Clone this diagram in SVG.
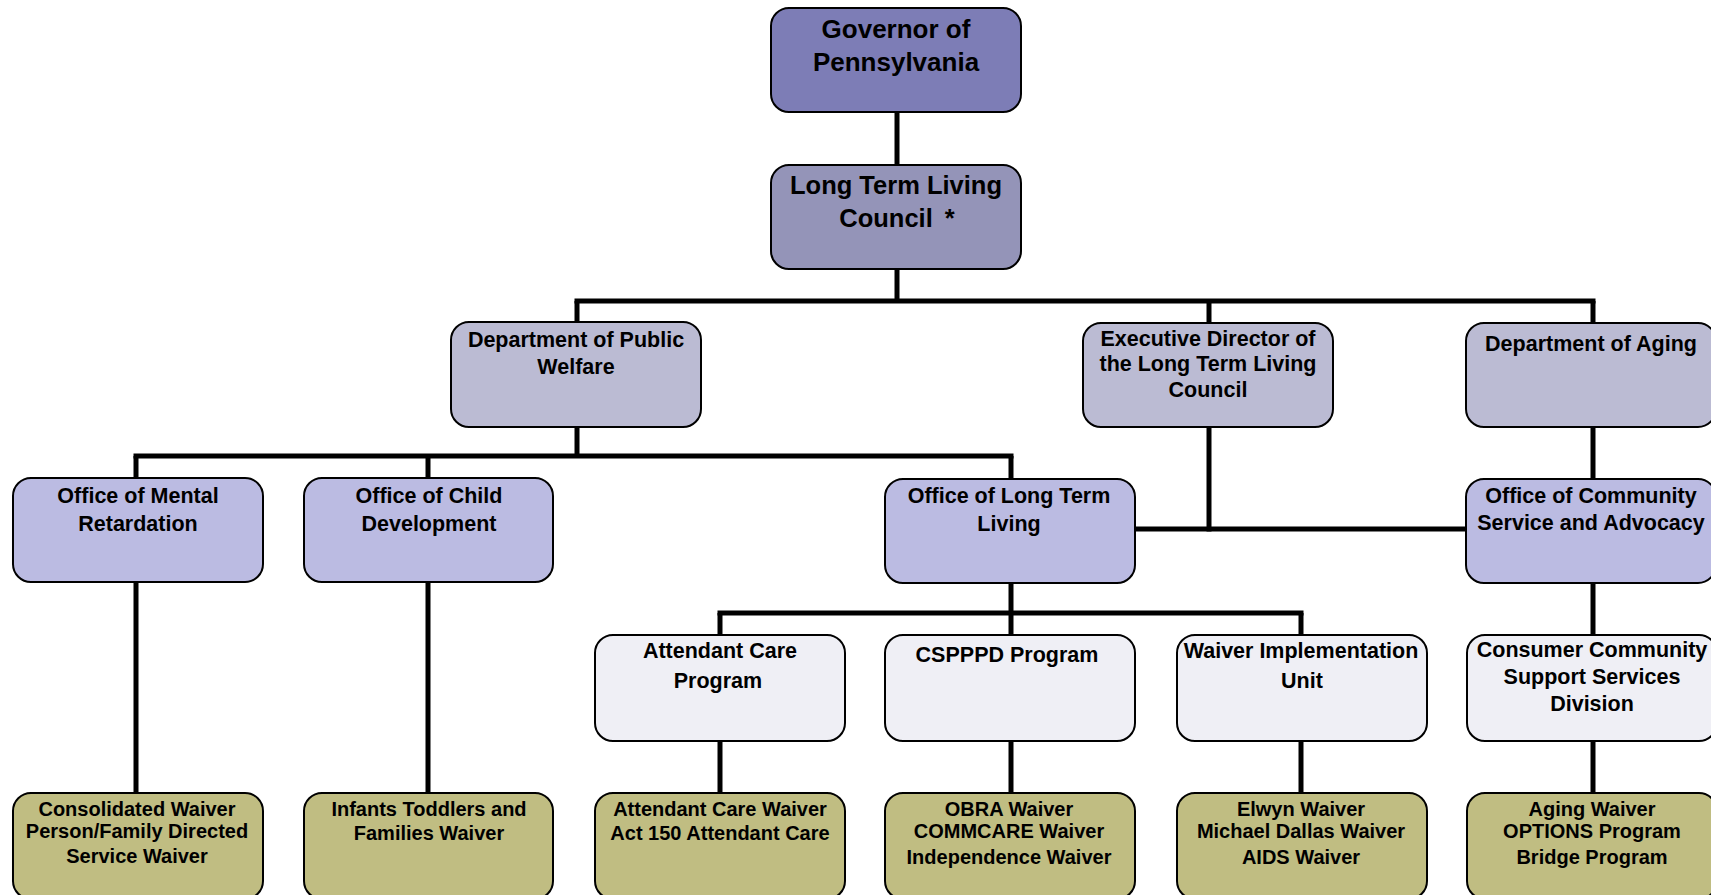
<svg xmlns="http://www.w3.org/2000/svg" width="1711" height="895" viewBox="0 0 1711 895">
<style>
.box{stroke:#000;stroke-width:2}
.t{font-family:"Liberation Sans",Arial,sans-serif;font-weight:bold;text-anchor:middle;fill:#000}
.t25{font-size:25.5px}
.t21{font-size:21.5px}
.t20{font-size:20px}
.gov{fill:#7d7db6}
.cou{fill:#9494b8}
.dep{fill:#bbbbd3}
.off{fill:#bbbbe2}
.prg{fill:#efeff5}
.wav{fill:#c0bd82}
.c{stroke:#000;stroke-width:5;fill:none}
</style>
<rect width="1711" height="895" fill="#fff"/>
<g id="connectors">
<line class="c" x1="897" y1="112" x2="897" y2="165"/>
<line class="c" x1="897" y1="269" x2="897" y2="301"/>
<line class="c" x1="574.5" y1="301" x2="1595.5" y2="301"/>
<line class="c" x1="577" y1="301" x2="577" y2="322"/>
<line class="c" x1="1209" y1="301" x2="1209" y2="323"/>
<line class="c" x1="1593" y1="301" x2="1593" y2="323"/>
<line class="c" x1="577" y1="427" x2="577" y2="456"/>
<line class="c" x1="133.5" y1="456" x2="1013.5" y2="456"/>
<line class="c" x1="136" y1="456" x2="136" y2="478"/>
<line class="c" x1="428" y1="456" x2="428" y2="478"/>
<line class="c" x1="1011" y1="456" x2="1011" y2="478"/>
<line class="c" x1="1209" y1="427" x2="1209" y2="531.5"/>
<line class="c" x1="1135" y1="529" x2="1466" y2="529"/>
<line class="c" x1="1593" y1="427" x2="1593" y2="479"/>
<line class="c" x1="136" y1="582" x2="136" y2="793"/>
<line class="c" x1="428" y1="582" x2="428" y2="793"/>
<line class="c" x1="1011" y1="583" x2="1011" y2="613"/>
<line class="c" x1="717.5" y1="613" x2="1303.5" y2="613"/>
<line class="c" x1="720" y1="613" x2="720" y2="635"/>
<line class="c" x1="1011" y1="613" x2="1011" y2="635"/>
<line class="c" x1="1301" y1="613" x2="1301" y2="635"/>
<line class="c" x1="1593" y1="583" x2="1593" y2="635"/>
<line class="c" x1="720" y1="741" x2="720" y2="793"/>
<line class="c" x1="1011" y1="741" x2="1011" y2="793"/>
<line class="c" x1="1301" y1="741" x2="1301" y2="793"/>
<line class="c" x1="1593" y1="741" x2="1593" y2="793"/>
</g>
<g id="governor">
<rect class="box gov" x="771" y="8" width="250" height="104" rx="18"/>
<text class="t t25" x="896" y="38" style="font-size:26px">Governor of</text>
<text class="t t25" x="896" y="71" style="font-size:26px">Pennsylvania</text>
</g>
<g id="council">
<rect class="box cou" x="771" y="165" width="250" height="104" rx="18"/>
<text class="t t25" x="896" y="194">Long Term Living</text>
<text class="t t25" x="897" y="227">Council<tspan dx="12">*</tspan></text>
</g>
<g id="dpw">
<rect class="box dep" x="451" y="322" width="250" height="105" rx="18"/>
<text class="t t21" x="576" y="347">Department of Public</text>
<text class="t t21" x="576" y="374">Welfare</text>
</g>
<g id="execdir">
<rect class="box dep" x="1083" y="323" width="250" height="104" rx="18"/>
<text class="t t21" x="1208" y="346">Executive Director of</text>
<text class="t t21" x="1208" y="371">the Long Term Living</text>
<text class="t t21" x="1208" y="397">Council</text>
</g>
<g id="aging">
<rect class="box dep" x="1466" y="323" width="250" height="104" rx="18"/>
<text class="t t21" x="1591" y="351">Department of Aging</text>
</g>
<g id="omr">
<rect class="box off" x="13" y="478" width="250" height="104" rx="18"/>
<text class="t t21" x="138" y="503">Office of Mental</text>
<text class="t t21" x="138" y="531">Retardation</text>
</g>
<g id="ocd">
<rect class="box off" x="304" y="478" width="249" height="104" rx="18"/>
<text class="t t21" x="429" y="503">Office of Child</text>
<text class="t t21" x="429" y="531">Development</text>
</g>
<g id="oltl">
<rect class="box off" x="885" y="479" width="250" height="104" rx="18"/>
<text class="t t21" x="1009" y="503">Office of Long Term</text>
<text class="t t21" x="1009" y="531">Living</text>
</g>
<g id="ocsa">
<rect class="box off" x="1466" y="479" width="250" height="104" rx="18"/>
<text class="t t21" x="1591" y="503">Office of Community</text>
<text class="t t21" x="1591" y="530">Service and Advocacy</text>
</g>
<g id="attendant">
<rect class="box prg" x="595" y="635" width="250" height="106" rx="18"/>
<text class="t t21" x="720" y="658">Attendant Care</text>
<text class="t t21" x="718" y="688">Program</text>
</g>
<g id="csppd">
<rect class="box prg" x="885" y="635" width="250" height="106" rx="18"/>
<text class="t t21" x="1007" y="662">CSPPPD Program</text>
</g>
<g id="waiverunit">
<rect class="box prg" x="1177" y="635" width="250" height="106" rx="18"/>
<text class="t t21" x="1301" y="658">Waiver Implementation</text>
<text class="t t21" x="1302" y="688">Unit</text>
</g>
<g id="consumer">
<rect class="box prg" x="1467" y="635" width="250" height="106" rx="18"/>
<text class="t t21" x="1592" y="657">Consumer Community</text>
<text class="t t21" x="1592" y="684">Support Services</text>
<text class="t t21" x="1592" y="711">Division</text>
</g>
<g id="consolidated">
<rect class="box wav" x="13" y="793" width="250" height="106" rx="18"/>
<text class="t t20" x="137" y="816">Consolidated Waiver</text>
<text class="t t20" x="137" y="838">Person/Family Directed</text>
<text class="t t20" x="137" y="863">Service Waiver</text>
</g>
<g id="infants">
<rect class="box wav" x="304" y="793" width="249" height="106" rx="18"/>
<text class="t t20" x="429" y="816">Infants Toddlers and</text>
<text class="t t20" x="429" y="840">Families Waiver</text>
</g>
<g id="attwaiver">
<rect class="box wav" x="595" y="793" width="250" height="106" rx="18"/>
<text class="t t20" x="720" y="816">Attendant Care Waiver</text>
<text class="t t20" x="720" y="840">Act 150 Attendant Care</text>
</g>
<g id="obra">
<rect class="box wav" x="885" y="793" width="250" height="106" rx="18"/>
<text class="t t20" x="1009" y="816">OBRA Waiver</text>
<text class="t t20" x="1009" y="838">COMMCARE Waiver</text>
<text class="t t20" x="1009" y="864">Independence Waiver</text>
</g>
<g id="elwyn">
<rect class="box wav" x="1177" y="793" width="250" height="106" rx="18"/>
<text class="t t20" x="1301" y="816">Elwyn Waiver</text>
<text class="t t20" x="1301" y="838">Michael Dallas Waiver</text>
<text class="t t20" x="1301" y="864">AIDS Waiver</text>
</g>
<g id="agingwaiver">
<rect class="box wav" x="1467" y="793" width="250" height="106" rx="18"/>
<text class="t t20" x="1592" y="816">Aging Waiver</text>
<text class="t t20" x="1592" y="838">OPTIONS Program</text>
<text class="t t20" x="1592" y="864">Bridge Program</text>
</g>
</svg>
